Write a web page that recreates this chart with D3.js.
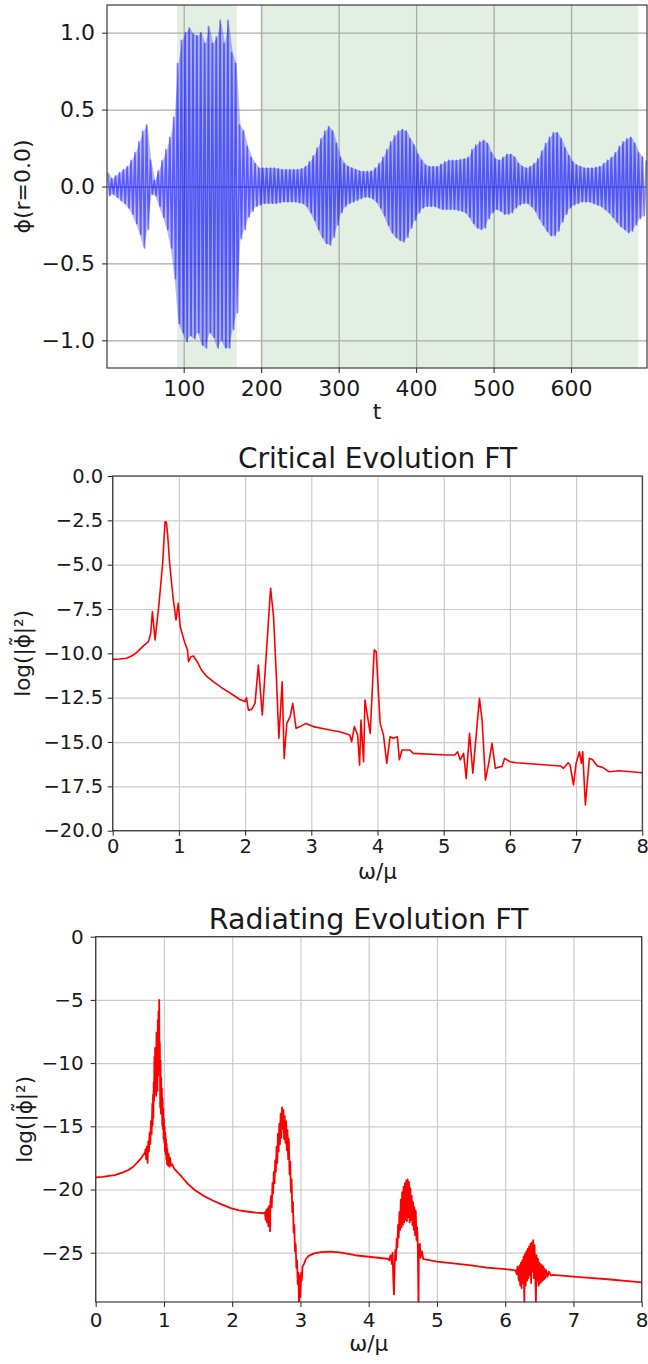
<!DOCTYPE html>
<html><head><meta charset="utf-8">
<script src="https://cdn.jsdelivr.net/npm/d3@7"></script>
<style>body{margin:0;background:#fff;} svg text{font-family:"DejaVu Sans",sans-serif;fill:#1a1a1a;}</style>
</head><body>
<script>
// ---------------- DATA ----------------
// Panel 1: field at r=0, successive oscillation maxima / minima
const phiStartT = 2;      // time of first maximum
const phiStepT = 5;       // spacing between successive maxima
const phiMax = [0.09,0.05,0.07,0.09,0.11,0.13,0.17,0.22,0.29,0.36,
  0.40,0.17,0.04,0.10,0.17,0.24,0.32,0.45,0.80,0.95,
  1.00,1.03,0.99,0.98,1.00,0.93,1.04,0.93,0.97,1.08,
  0.93,1.08,0.87,0.80,0.40,0.36,0.26,0.19,0.15,0.12,
  0.12,0.12,0.12,0.12,0.115,0.11,0.11,0.11,0.11,0.11,
  0.115,0.13,0.16,0.20,0.25,0.31,0.36,0.39,0.36,0.28,
  0.19,0.15,0.13,0.12,0.11,0.10,0.097,0.098,0.10,0.12,
  0.15,0.19,0.24,0.29,0.33,0.36,0.37,0.36,0.31,0.27,
  0.21,0.17,0.14,0.13,0.13,0.13,0.145,0.16,0.17,0.17,
  0.17,0.175,0.18,0.19,0.24,0.27,0.29,0.30,0.28,0.22,
  0.18,0.17,0.19,0.21,0.21,0.19,0.15,0.13,0.12,0.13,
  0.15,0.18,0.23,0.28,0.32,0.35,0.35,0.31,0.25,0.20,
  0.16,0.14,0.13,0.12,0.12,0.12,0.125,0.13,0.15,0.17,
  0.19,0.22,0.26,0.29,0.31,0.32,0.28,0.22,0.19,0.17];
const phiMin = [-0.06,-0.05,-0.07,-0.09,-0.11,-0.14,-0.18,-0.24,-0.31,-0.40,
  -0.28,-0.05,-0.06,-0.13,-0.20,-0.28,-0.40,-0.60,-0.89,-0.95,
  -1.01,-0.97,-0.99,-0.95,-1.03,-1.05,-0.95,-0.98,-1.05,-1.00,
  -1.05,-1.05,-0.93,-0.82,-0.34,-0.28,-0.20,-0.16,-0.13,-0.12,
  -0.11,-0.11,-0.11,-0.11,-0.105,-0.10,-0.10,-0.10,-0.10,-0.105,
  -0.11,-0.13,-0.17,-0.22,-0.28,-0.33,-0.37,-0.38,-0.33,-0.25,
  -0.17,-0.13,-0.11,-0.10,-0.09,-0.08,-0.07,-0.07,-0.08,-0.10,
  -0.14,-0.19,-0.25,-0.30,-0.33,-0.35,-0.36,-0.33,-0.27,-0.22,
  -0.17,-0.14,-0.13,-0.13,-0.13,-0.14,-0.15,-0.15,-0.15,-0.15,
  -0.155,-0.16,-0.17,-0.20,-0.24,-0.27,-0.28,-0.27,-0.21,-0.17,
  -0.15,-0.16,-0.18,-0.18,-0.17,-0.14,-0.12,-0.11,-0.11,-0.13,
  -0.16,-0.21,-0.25,-0.29,-0.32,-0.32,-0.29,-0.23,-0.18,-0.14,
  -0.12,-0.11,-0.10,-0.10,-0.10,-0.11,-0.12,-0.13,-0.15,-0.17,
  -0.20,-0.23,-0.26,-0.28,-0.30,-0.29,-0.25,-0.21,-0.19];
const phiSpans = [[91.5,168.5],[199,687]];
const phiXTicks = [100,200,300,400,500,600];
const phiYTicks = [-1.0,-0.5,0.0,0.5,1.0];

// Panel 2: Critical evolution FT  [omega/mu, log|phi~|^2]
const critSpectrum = [[0,-10.34],[0.1,-10.32],[0.21,-10.28],[0.3,-10.12],[0.36,-9.96],[0.46,-9.59],[0.54,-9.34],[0.574,-8.87],[0.60,-7.65],[0.64,-9.25],[0.70,-7.18],[0.755,-4.92],[0.79,-2.58],[0.81,-2.6],[0.83,-3.3],[0.86,-4.92],[0.91,-6.80],[0.956,-8.12],[0.99,-7.18],[1.02,-8.5],[1.09,-9.42],[1.13,-9.8],[1.145,-10.47],[1.18,-10.19],[1.22,-10.15],[1.29,-10.56],[1.34,-10.94],[1.42,-11.3],[1.52,-11.6],[1.65,-11.95],[1.82,-12.35],[1.92,-12.6],[2.0,-12.72],[2.02,-12.5],[2.05,-13.2],[2.10,-13.16],[2.15,-12.82],[2.2,-10.66],[2.26,-13.48],[2.385,-6.33],[2.43,-7.93],[2.47,-11.13],[2.51,-14.79],[2.56,-11.6],[2.59,-15.92],[2.63,-13.95],[2.68,-13.57],[2.72,-12.82],[2.77,-14.23],[2.83,-14.13],[2.92,-13.95],[3.03,-14.13],[3.28,-14.32],[3.43,-14.42],[3.58,-14.6],[3.61,-14.98],[3.65,-14.13],[3.70,-14.6],[3.73,-16.3],[3.75,-13.76],[3.79,-16.11],[3.81,-12.63],[3.89,-14.51],[3.95,-9.81],[3.98,-9.9],[4.04,-13.95],[4.09,-14.6],[4.14,-16.2],[4.19,-14.7],[4.24,-14.79],[4.30,-14.7],[4.33,-16.0],[4.37,-15.45],[4.49,-15.45],[4.54,-15.64],[5.05,-15.73],[5.17,-15.73],[5.21,-15.55],[5.25,-16.0],[5.30,-15.64],[5.34,-17.05],[5.39,-14.51],[5.44,-16.76],[5.54,-12.54],[5.58,-13.76],[5.63,-17.14],[5.68,-16.2],[5.73,-15.07],[5.78,-16.48],[5.85,-16.39],[5.88,-16.39],[5.92,-15.92],[6.00,-16.11],[6.10,-16.17],[6.76,-16.35],[6.81,-16.48],[6.88,-16.17],[6.91,-16.3],[6.96,-17.42],[7.0,-16.2],[7.05,-15.55],[7.08,-16.2],[7.10,-15.55],[7.14,-18.55],[7.20,-15.92],[7.25,-16.0],[7.32,-16.35],[7.40,-16.43],[7.5,-16.68],[7.65,-16.62],[8.0,-16.73]];
const critXTicks = [0,1,2,3,4,5,6,7,8];
const critYTicks = [0,-2.5,-5,-7.5,-10,-12.5,-15,-17.5,-20];

// Panel 3: Radiating evolution FT
const radSpectrum = [[0,-19.04],[0.1,-19.0],[0.2,-18.92],[0.28,-18.86],[0.4,-18.65],[0.48,-18.46],[0.55,-18.2],[0.62,-17.8],[0.67,-17.5],[0.71,-17.14],
[0.72,-17.2],[0.73,-16.8],[0.74,-17.6],[0.75,-16.6],[0.76,-17.9],[0.77,-16.2],[0.78,-17.0],[0.79,-15.5],[0.80,-16.4],[0.81,-14.6],[0.82,-15.6],[0.83,-13.2],[0.835,-14.9],[0.84,-12.5],[0.845,-14.3],[0.85,-11.5],[0.855,-13.0],[0.86,-9.5],[0.865,-12.4],[0.87,-8.8],[0.875,-11.8],[0.88,-9.9],[0.885,-12.6],[0.89,-7.6],[0.895,-10.9],[0.90,-8.6],[0.905,-12.2],[0.91,-6.6],[0.915,-11.0],[0.92,-5.9],[0.925,-9.8],[0.93,-5.0],[0.935,-10.5],[0.94,-8.4],[0.945,-13.5],[0.95,-9.8],[0.955,-14.0],[0.96,-11.2],[0.965,-13.6],[0.97,-12.0],[0.975,-14.9],[0.98,-12.8],[0.985,-15.2],[0.99,-13.6],[0.995,-16.0],[1.0,-14.4],[1.005,-16.3],[1.01,-15.0],[1.015,-17.0],[1.02,-15.5],[1.025,-17.2],[1.03,-16.0],[1.035,-17.6],[1.04,-16.4],[1.045,-18.0],[1.05,-16.8],[1.06,-18.1],[1.07,-17.2],[1.08,-18.2],[1.09,-17.5],[1.10,-18.1],[1.12,-18.0],[1.15,-18.35],[1.2,-18.65],
[1.26,-18.99],[1.35,-19.55],[1.45,-20.04],[1.58,-20.5],[1.70,-20.83],[1.85,-21.2],[1.99,-21.49],[2.1,-21.65],[2.24,-21.76],[2.35,-21.83],[2.46,-21.88],
[2.48,-21.8],[2.49,-22.4],[2.50,-21.6],[2.51,-22.6],[2.52,-21.5],[2.53,-22.9],[2.54,-21.3],[2.55,-22.2],[2.555,-23.3],[2.56,-21.0],[2.57,-20.5],[2.58,-21.4],[2.59,-19.5],[2.60,-20.3],[2.61,-18.6],[2.62,-19.5],[2.63,-17.7],[2.64,-18.6],[2.65,-16.6],[2.66,-17.9],[2.67,-15.6],[2.68,-17.0],[2.69,-14.8],[2.70,-16.4],[2.71,-14.0],[2.72,-15.9],[2.73,-13.5],[2.74,-15.2],[2.75,-13.7],[2.76,-16.0],[2.77,-14.2],[2.78,-16.3],[2.79,-14.6],[2.80,-16.9],[2.81,-15.3],[2.82,-17.6],[2.83,-16.0],[2.84,-18.8],[2.85,-17.8],[2.86,-20.2],[2.87,-19.2],[2.88,-21.8],[2.89,-21.0],[2.90,-23.4],[2.91,-22.8],[2.92,-24.9],[2.93,-24.3],[2.94,-26.2],[2.95,-25.6],[2.96,-27.5],[2.97,-26.6],[2.98,-29.5],[2.99,-26.8],[3.0,-28.5],[3.01,-26.6],[3.02,-27.2],[3.03,-26.1],[3.05,-25.9],[3.08,-25.5],[3.12,-25.25],[3.2,-25.05],[3.3,-24.95],[3.45,-24.92],[3.6,-25.0],[3.8,-25.2],[4.0,-25.32],[4.2,-25.44],[4.28,-25.48],
[4.30,-25.6],[4.32,-25.2],[4.34,-25.9],[4.35,-25.0],[4.36,-27.0],[4.37,-28.3],[4.38,-26.0],[4.39,-24.8],[4.40,-25.6],[4.41,-23.9],[4.42,-24.6],[4.43,-22.8],[4.44,-23.8],[4.45,-21.8],[4.46,-23.2],[4.47,-20.8],[4.48,-23.0],[4.49,-20.2],[4.50,-22.8],[4.51,-19.8],[4.52,-22.6],[4.53,-19.5],[4.54,-22.4],[4.55,-19.3],[4.56,-22.5],[4.57,-19.2],[4.58,-22.2],[4.59,-19.4],[4.60,-22.6],[4.61,-19.9],[4.62,-22.4],[4.63,-20.5],[4.64,-22.8],[4.65,-21.0],[4.66,-23.2],[4.67,-21.4],[4.68,-23.6],[4.69,-21.7],[4.70,-24.0],[4.71,-23.0],[4.72,-24.5],[4.73,-29.5],[4.735,-24.4],[4.74,-25.0],[4.75,-24.3],[4.76,-25.4],[4.78,-24.9],[4.80,-25.5],[4.85,-25.55],[5.0,-25.7],[5.24,-25.84],[5.5,-26.0],[5.73,-26.18],[6.0,-26.3],[6.12,-26.37],
[6.15,-26.4],[6.17,-26.7],[6.18,-26.1],[6.20,-27.2],[6.21,-26.0],[6.22,-27.6],[6.23,-25.8],[6.24,-27.8],[6.25,-25.6],[6.26,-27.4],[6.27,-25.3],[6.28,-28.9],[6.29,-25.1],[6.30,-27.6],[6.31,-24.9],[6.32,-27.2],[6.33,-24.7],[6.34,-27.0],[6.35,-24.5],[6.36,-26.8],[6.37,-24.3],[6.38,-27.4],[6.39,-24.2],[6.40,-26.5],[6.41,-24.0],[6.42,-27.0],[6.43,-24.4],[6.44,-26.6],[6.45,-28.9],[6.46,-25.2],[6.47,-27.2],[6.48,-25.5],[6.49,-27.6],[6.50,-25.8],[6.51,-27.4],[6.52,-25.9],[6.53,-27.3],[6.54,-26.0],[6.55,-27.2],[6.56,-26.1],[6.57,-27.1],[6.58,-26.3],[6.59,-27.0],[6.60,-26.4],[6.62,-26.9],[6.64,-26.5],[6.67,-26.8],[6.70,-26.76],[7.0,-26.9],[7.19,-26.97],[7.5,-27.1],[7.8,-27.25],[8.0,-27.34]];
const radXTicks = [0,1,2,3,4,5,6,7,8];
const radYTicks = [0,-5,-10,-15,-20,-25];

// ---------------- DRAWING ----------------
const svg = d3.select("body").append("svg").attr("width",648).attr("height",1364);

function makeAxes(o) {
  const g = svg.append("g");
  const x = d3.scaleLinear().domain(o.xDom).range([o.left, o.right]);
  const y = d3.scaleLinear().domain(o.yDom).range([o.bottom, o.top]);
  const h = o.bottom - o.top, w = o.right - o.left;
  (o.spans || []).forEach(s => {
    g.append("rect").attr("x", x(s[0])).attr("y", o.top)
      .attr("width", x(s[1]) - x(s[0])).attr("height", h)
      .attr("fill", "#e3efe3");
  });
  const gx = g.append("g").attr("transform", `translate(0,${o.bottom})`)
    .call(d3.axisBottom(x).tickValues(o.xTicks).tickSize(-h).tickFormat(""));
  const gy = g.append("g").attr("transform", `translate(${o.left},0)`)
    .call(d3.axisLeft(y).tickValues(o.yTicks).tickSize(-w).tickFormat(""));
  [gx, gy].forEach(a => {
    a.select(".domain").remove();
    a.selectAll("line").attr("stroke", o.gridColor).attr("stroke-width", o.gridWidth);
  });
  const cid = "clip" + Math.round(o.top);
  svg.append("clipPath").attr("id", cid).append("rect")
    .attr("x", o.left).attr("y", o.top).attr("width", w).attr("height", h);
  const plot = svg.append("g").attr("clip-path", `url(#${cid})`);
  const ax = svg.append("g").attr("transform", `translate(0,${o.bottom})`)
    .call(d3.axisBottom(x).tickValues(o.xTicks).tickSize(5).tickPadding(o.xPad).tickFormat(o.xFmt));
  const ay = svg.append("g").attr("transform", `translate(${o.left},0)`)
    .call(d3.axisLeft(y).tickValues(o.yTicks).tickSize(5).tickPadding(o.yPad).tickFormat(o.yFmt));
  [ax, ay].forEach(a => {
    a.select(".domain").remove();
    a.selectAll("line").attr("stroke", "#222").attr("stroke-width", 1);
    a.selectAll("text").attr("font-size", o.tickFont).attr("fill", "#1a1a1a")
      .style("font-family", "'DejaVu Sans', sans-serif");
  });
  svg.append("rect").attr("x", o.left).attr("y", o.top).attr("width", w).attr("height", h)
    .attr("fill", "none").attr("stroke", "#2a2a2a").attr("stroke-width", 1.1);
  svg.append("text").attr("x", (o.left + o.right) / 2).attr("y", o.xLabelY)
    .attr("text-anchor", "middle").attr("font-size", o.labelFont).text(o.xLabel);
  svg.append("text").attr("transform", `translate(${o.yLabelX},${(o.top + o.bottom) / 2}) rotate(-90)`)
    .attr("text-anchor", "middle").attr("dominant-baseline", "central")
    .attr("font-size", o.labelFont).text(o.yLabel);
  if (o.title) {
    svg.append("text").attr("x", (o.left + o.right) / 2).attr("y", o.titleY)
      .attr("text-anchor", "middle").attr("font-size", o.titleFont).text(o.title);
  }
  return {x, y, plot};
}

// Panel 1
const p1 = makeAxes({
  left: 107, right: 647, top: 5, bottom: 368,
  xDom: [1, 698], yDom: [-1.18, 1.18],
  xTicks: phiXTicks, yTicks: phiYTicks,
  xFmt: d3.format("d"), yFmt: d3.format(".1f"),
  xPad: 7, yPad: 7, tickFont: 22, labelFont: 22,
  gridColor: "#a9aca9", gridWidth: 1.3,
  spans: phiSpans,
  xLabel: "t", xLabelY: 419, yLabel: "ϕ(r=0.0)", yLabelX: 22
});
const phiPts = [];
phiMax.forEach((v, i) => {
  phiPts.push([phiStartT + phiStepT * i, v]);
  if (i < phiMin.length) phiPts.push([phiStartT + phiStepT * i + phiStepT / 2, phiMin[i]]);
});
// faint band between successive maxima and minima (the densely sampled oscillation)
const phiBand = phiMin.map((v, i) => [phiStartT + phiStepT * i + phiStepT / 4, phiMax[i], v]);
p1.plot.append("path").datum(phiBand)
  .attr("d", d3.area().x(d => p1.x(d[0])).y0(d => p1.y(d[2])).y1(d => p1.y(d[1])))
  .attr("fill", "#0000ff").attr("fill-opacity", 0.28);
p1.plot.append("path").datum(phiPts)
  .attr("d", d3.line().x(d => p1.x(d[0])).y(d => p1.y(d[1])))
  .attr("fill", "none").attr("stroke", "#0000ff").attr("stroke-opacity", 0.5)
  .attr("stroke-width", 1.6).attr("stroke-linejoin", "round");

// Panel 2
const p2 = makeAxes({
  left: 112.7, right: 642.3, top: 476, bottom: 830.7,
  xDom: [0, 8], yDom: [-20, 0],
  xTicks: critXTicks, yTicks: critYTicks,
  xFmt: d3.format("d"), yFmt: d3.format(".1f"),
  xPad: 3.5, yPad: 4.5, tickFont: 19.5, labelFont: 21.5,
  gridColor: "#cccccc", gridWidth: 1.2,
  xLabel: "ω/μ", xLabelY: 879, yLabel: "log(|ϕ̃|²)", yLabelX: 22,
  title: "Critical Evolution FT", titleY: 468, titleFont: 28
});
p2.plot.append("path").datum(critSpectrum)
  .attr("d", d3.line().x(d => p2.x(d[0])).y(d => p2.y(d[1])))
  .attr("fill", "none").attr("stroke", "#ff0000").attr("stroke-width", 1.6)
  .attr("stroke-linejoin", "round");

// Panel 3
const p3 = makeAxes({
  left: 95.7, right: 641.7, top: 936.7, bottom: 1302,
  xDom: [0, 8], yDom: [-28.9, 0],
  xTicks: radXTicks, yTicks: radYTicks,
  xFmt: d3.format("d"), yFmt: d3.format("d"),
  xPad: 6, yPad: 7, tickFont: 20, labelFont: 21.5,
  gridColor: "#cccccc", gridWidth: 1.2,
  xLabel: "ω/μ", xLabelY: 1351, yLabel: "log(|ϕ̃|²)", yLabelX: 24,
  title: "Radiating Evolution FT", titleY: 929, titleFont: 28.5
});
p3.plot.append("path").datum(radSpectrum)
  .attr("d", d3.line().x(d => p3.x(d[0])).y(d => p3.y(d[1])))
  .attr("fill", "none").attr("stroke", "#ff0000").attr("stroke-width", 1.8)
  .attr("stroke-linejoin", "round");
</script>
</body></html>
